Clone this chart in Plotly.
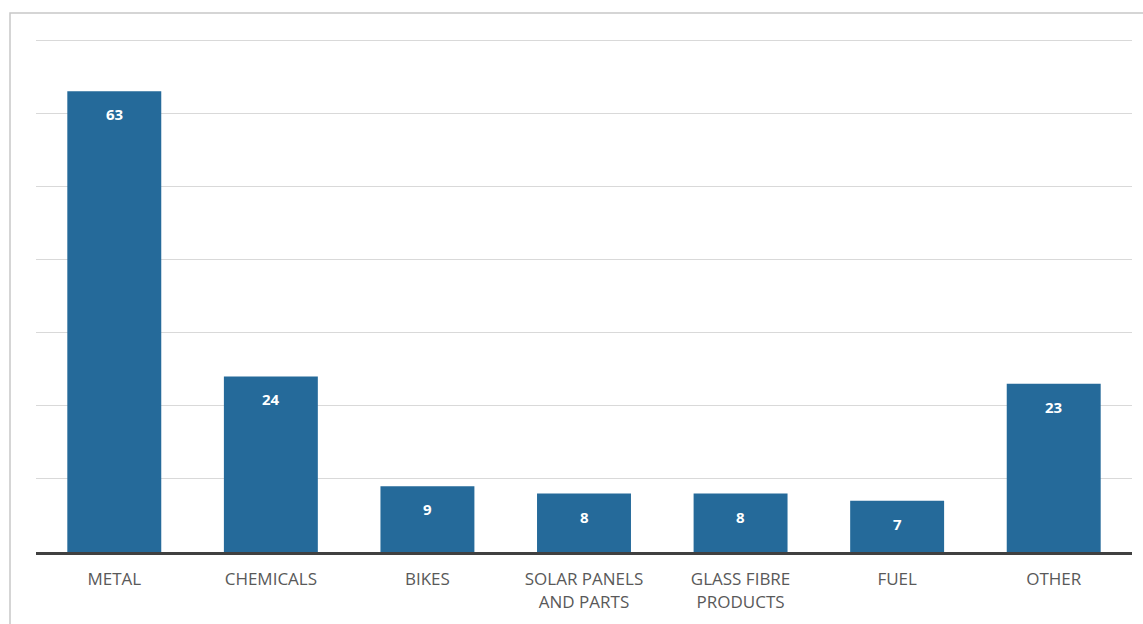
import plotly.graph_objects as go

categories = ["METAL", "CHEMICALS", "BIKES", "SOLAR PANELS<br>AND PARTS",
              "GLASS FIBRE<br>PRODUCTS", "FUEL", "OTHER"]
values = [63, 24, 9, 8, 8, 7, 23]

bar_color = "#256a9a"

fig = go.Figure()
fig.add_trace(go.Bar(
    x=categories, y=values,
    marker=dict(color=bar_color, line=dict(width=0)),
    width=0.6, hoverinfo="x+y",
))

for c, v in zip(categories, values):
    fig.add_annotation(x=c, y=v, xref="x", yref="y", text=f"<b>{v}</b>",
                       showarrow=False, yanchor="middle", yshift=-23,
                       font=dict(family="Open Sans", size=15, color="white"))

# outer frame
fig.add_shape(type="rect", xref="paper", yref="paper",
              x0=-26/1096, x1=1.2, y0=-0.5, y1=1 + 26/512,
              line=dict(color="#c8c8c8", width=1.5), fillcolor="rgba(0,0,0,0)",
              layer="below")

fig.update_layout(
    width=1143, height=624,
    margin=dict(l=36, r=11, t=39, b=72),
    paper_bgcolor="white", plot_bgcolor="white",
    showlegend=False, bargap=0.4,
    font=dict(family="Open Sans", size=17, color="#595959"),
    xaxis=dict(showline=True, linecolor="#404040", linewidth=3,
               ticks="", showgrid=False, tickfont=dict(size=17, color="#595959"),
               ticklabelstandoff=10, range=[-0.5, 6.5]),
    yaxis=dict(range=[0, 70.15], dtick=10, showticklabels=False, showgrid=True,
               gridcolor="#d9d9d9", gridwidth=1, zeroline=False, ticks=""),
)

fig.write_html("out.html")
